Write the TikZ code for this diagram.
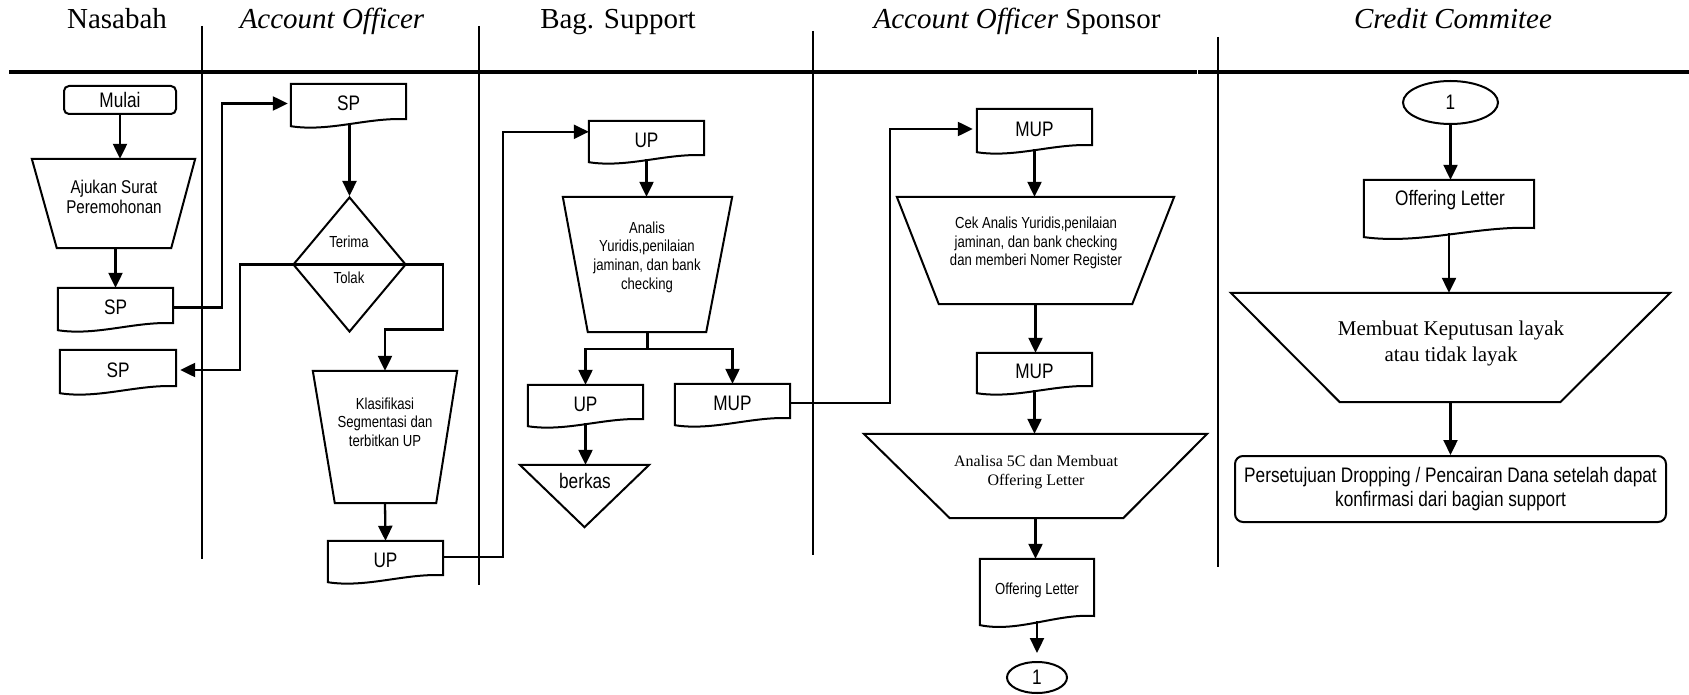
\documentclass[tikz,border=0pt]{standalone}
\usepackage{fontspec}
\setmainfont{Liberation Serif}
\newfontfamily\nar[FakeStretch=0.82]{Liberation Sans}
\usetikzlibrary{arrows.meta,calc,shapes.geometric}
\newcommand\fsH{\fontsize{29}{32}\selectfont}
\newcommand\fsA{\nar\fontsize{21}{24}\selectfont}
\newcommand\fsB{\nar\fontsize{18.5}{20.5}\selectfont}
\newcommand\fsC{\nar\fontsize{16}{18.6}\selectfont}
\newcommand\fsT{\fontsize{16}{19}\selectfont}
\newcommand\fsTT{\fontsize{21}{26}\selectfont}
\newcommand\trapz[3]{\draw[shp] (#1.north west) -- (#1.north east) -- ($(#1.south east)+(-#3,0)$) -- ($(#1.south west)+(#2,0)$) -- cycle;}
\newcommand\docz[2][1]{\draw[shp] ($(#2.south west)+(0,{3*#1})$) -- (#2.north west) -- (#2.north east) -- ($(#2.south east)+(0,{-4*#1})$) .. controls ($(#2.south west)!0.67!(#2.south east)+(0,{-6*#1})$) and ($(#2.south west)!0.33!(#2.south east)+(0,{9*#1})$) .. ($(#2.south west)+(0,{3*#1})$) -- cycle;}
\tikzset{
  shp/.style={draw, line width=2pt, line join=miter},
  box/.style={draw=none, inner sep=0pt, align=center},
  txt/.style={inner sep=0pt, align=center},
  arr/.style={line width=2.3pt, -{Triangle[length=15pt,width=14pt]}},
  ln/.style={line width=2.3pt},
  lane/.style={line width=2pt},
}
\begin{document}
\begin{tikzpicture}[x=1pt,y=-1pt]
\useasboundingbox (0,0) rectangle (1689,695);
% headers
\node[anchor=base, font=\fsH] (hNas) at (117,29) {Nasabah};
\node[anchor=base, font=\fsH] (hAO) at (332,29) {\textit{Account Officer}};
\node[anchor=base, font=\fsH] (hBS) at (618,29) {Bag. Support};
\node[anchor=base, font=\fsH] (hAOS) at (1017,29) {\textit{Account Officer} Sponsor};
\node[anchor=base, font=\fsH] (hCC) at (1453,29) {\textit{Credit Commitee}};
% lane lines
\draw[line width=3.2pt] (9,72) -- (1197,72);
\draw[line width=3.6pt] (1198,72) -- (1689,72);
\draw[lane] (202,26) -- (202,559);
\draw[lane] (479,26) -- (479,585);
\draw[lane] (813,31) -- (813,555);
\draw[lane] (1218,37) -- (1218,567);
% Nasabah
\node[box, shp, rounded corners=5pt, minimum width=112pt, minimum height=28pt, font=\fsA] (mulai) at (120,100) {Mulai};
\node[box, minimum width=163pt, minimum height=89pt] (ajukan) at (113.5,203.5) {};
\trapz{ajukan}{25}{24}
\node[txt, font=\fsB] (ajukanT) at (114,197) {Ajukan Surat\\Peremohonan};
\node[box, minimum width=115pt, minimum height=39pt, font=\fsA] (sp1) at (115.5,307.5) {SP};
\docz{sp1}
\node[box, minimum width=116pt, minimum height=40pt, font=\fsA] (sp2) at (118,370) {SP};
\docz{sp2}
% Account Officer
\node[box, minimum width=115pt, minimum height=39pt, font=\fsA] (spAO) at (348.5,103.5) {SP};
\docz{spAO}
\node[shp, diamond, inner sep=0pt, minimum width=113pt, minimum height=135pt] (dec) at (349.5,264.5) {};
\node[txt, font=\fsC] (terima) at (349,242) {Terima};
\node[txt, font=\fsC] (tolak) at (349,278) {Tolak};
\node[box, minimum width=144pt, minimum height=132pt] (klas) at (385,437) {};
\trapz{klas}{22}{21}
\node[txt, font=\fsC] (klasT) at (385,422) {Klasifikasi\\Segmentasi dan\\terbitkan UP};
\node[box, minimum width=115pt, minimum height=38pt, font=\fsA] (upAO) at (385.5,560) {UP};
\docz{upAO}
% Bag. Support
\node[box, minimum width=115pt, minimum height=38pt, font=\fsA] (upBS) at (646.5,140) {UP};
\docz{upBS}
\node[box, minimum width=169pt, minimum height=135pt] (analis) at (647.5,264.5) {};
\trapz{analis}{25}{26}
\node[txt, font=\fsC] (analisT) at (647,257) {Analis\\Yuridis,penilaian\\jaminan, dan bank\\checking};
\node[box, minimum width=115pt, minimum height=38pt, font=\fsA] (upBS2) at (585.5,404) {UP};
\docz{upBS2}
\node[box, minimum width=115pt, minimum height=38pt, font=\fsA] (mupBS) at (732.5,403) {MUP};
\docz{mupBS}
\node[box, minimum width=129pt, minimum height=62pt] (berkas) at (584.5,496) {};
\draw[shp] (berkas.north west) -- (berkas.north east) -- (berkas.south) -- cycle;
\node[txt, font=\fsA] (berkasT) at (585,481) {berkas};
% Account Officer Sponsor
\node[box, minimum width=115pt, minimum height=40pt, font=\fsA] (mupS1) at (1034.5,129) {MUP};
\docz{mupS1}
\node[box, minimum width=277pt, minimum height=107pt] (cek) at (1035.5,250.5) {};
\trapz{cek}{42}{42}
\node[txt, font=\fsC] (cekT) at (1036,243) {Cek Analis Yuridis,penilaian\\jaminan, dan bank checking\\dan memberi Nomer Register};
\node[box, minimum width=115pt, minimum height=37pt, font=\fsA] (mupS2) at (1034.5,371.5) {MUP};
\docz{mupS2}
\node[box, minimum width=343pt, minimum height=84pt] (a5c) at (1035.5,476) {};
\trapz{a5c}{86}{84}
\node[txt, font=\fsT] (a5cT) at (1036,472) {Analisa 5C dan Membuat\\Offering Letter};
\node[box, minimum width=114pt, minimum height=62pt, font=\fsC] (olS) at (1037,590) {Offering Letter};
\docz[1.3]{olS}
\node[shp, ellipse, inner sep=0pt, minimum width=60pt, minimum height=31pt, font=\fsA] (conn1) at (1037,677.5) {1};
% Credit Commitee
\node[shp, ellipse, inner sep=0pt, minimum width=95pt, minimum height=43pt, font=\fsA] (conn2) at (1450.5,102.5) {1};
\node[box, minimum width=170pt, minimum height=53pt] (olCC) at (1449,206.5) {};
\docz[1.3]{olCC}
\node[txt, font=\fsA] (olCCT) at (1450,200) {Offering Letter};
\node[box, minimum width=439pt, minimum height=109pt] (kep) at (1450.5,347.5) {};
\trapz{kep}{109}{110}
\node[txt, font=\fsTT] (kepT) at (1451,343) {Membuat Keputusan layak\\atau tidak layak};
\node[box, shp, rounded corners=8pt, minimum width=431pt, minimum height=66pt, font=\fsA] (pers) at (1450.5,489) {Persetujuan Dropping / Pencairan Dana setelah dapat\\konfirmasi dari bagian support};
% connectors
\draw[arr] (mulai.south) -- (mulai.south |- ajukan.north);
\draw[arr] (sp1.north |- ajukan.south) -- (sp1.north);
\draw[arr, shorten >=3pt] (sp1.east) -- ++(49,0) |- (spAO.west);
\draw[arr] (spAO.south -| dec.north) -- (dec.north);
\draw[ln] (dec.west) -- (dec.east);
\draw[arr, shorten >=4pt] (dec.west) -- ++(-52,0) |- (sp2.east);
\draw[arr] (dec.east) -- ++(36,0) -- ++(0,65) -| (klas.north);
\draw[arr] (klas.south) -- (upAO.north);
\draw[arr] ($(upAO.north east)+(0,16)$) -- ++(60,0) |- ($(upBS.north west)+(0,11)$);
\draw[arr] (upBS.south) -- (upBS.south |- analis.north);
\draw[ln] (analis.south) -- ++(0,17) coordinate (split);
\draw[arr] (split) -| (upBS2.north);
\draw[arr] (split) -| (mupBS.north);
\draw[arr] (upBS2.south) -- (upBS2.south |- berkas.north);
\draw[arr, shorten >=4pt] (mupBS.east) -- ++(100,0) |- (mupS1.west);
\draw[arr] (mupS1.south) -- (mupS1.south |- cek.north);
\draw[arr] (cek.south) -- (cek.south |- mupS2.north);
\draw[arr] (mupS2.south) -- (mupS2.south |- a5c.north);
\draw[arr] (a5c.south) -- (a5c.south |- olS.north);
\draw[arr, shorten >=8pt] (olS.south) -- (olS.south |- conn1.north);
\draw[arr] (conn2.south) -- (conn2.south |- olCC.north);
\draw[arr] (olCC.south) -- (olCC.south |- kep.north);
\draw[arr] (kep.south) -- (kep.south |- pers.north);
\end{tikzpicture}
\end{document}
